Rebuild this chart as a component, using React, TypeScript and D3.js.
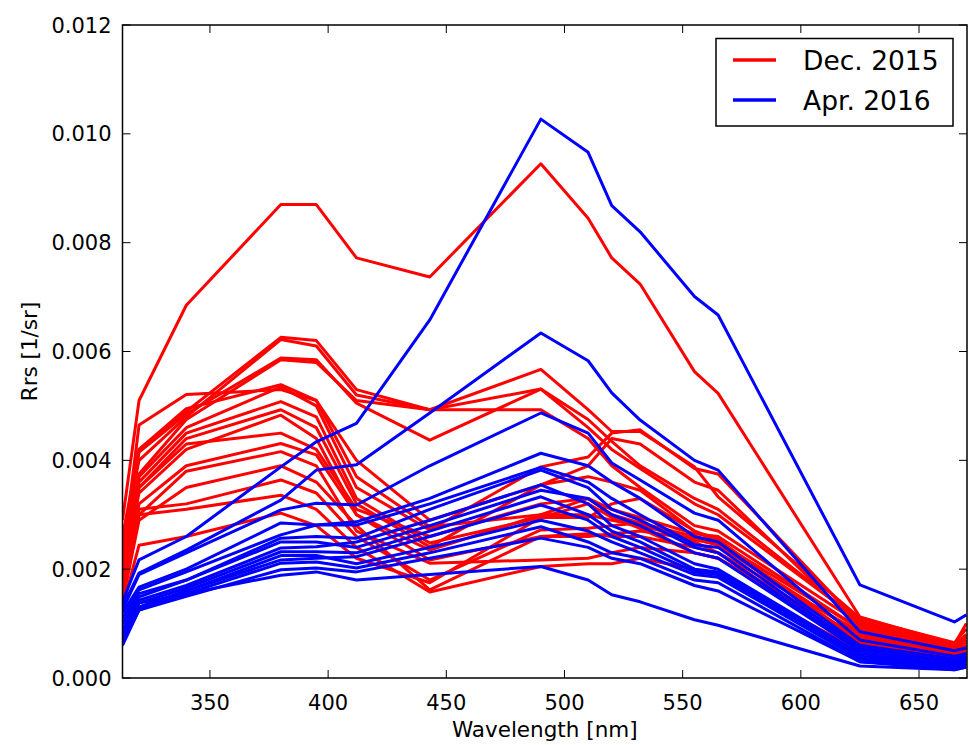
import React from "react";
import * as d3 from "d3";

const wavelengths = [313, 320, 340, 380, 395, 412, 443, 490, 510, 520, 532, 555, 565, 625, 665, 670];

// Rrs values in units of 1e-3 sr^-1
const dec2015 = [
  [2.9, 5.1, 6.85, 8.7, 8.7, 7.72, 7.37, 9.45, 8.45, 7.72, 7.24, 5.63, 5.23, 1.12, 0.62, 1.0],
  [2.6, 4.2, 4.9, 6.26, 6.2, 5.3, 4.93, 5.67, 4.93, 4.53, 4.53, 3.88, 3.33, 1.1, 0.65, 0.9],
  [2.5, 4.0, 4.8, 6.22, 6.1, 5.2, 4.93, 5.31, 4.6, 4.2, 3.85, 3.2, 3.0, 1.05, 0.6, 0.8],
  [2.4, 4.15, 4.85, 5.88, 5.85, 5.05, 4.37, 5.31, 4.75, 4.35, 3.9, 3.3, 3.1, 1.05, 0.6, 0.75],
  [2.3, 3.75, 4.75, 5.85, 5.8, 5.1, 4.93, 4.93, 4.4, 3.9, 3.5, 2.8, 2.7, 1.0, 0.55, 0.7],
  [2.2, 4.65, 5.21, 5.3, 5.1, 4.0, 2.9, 3.55, 3.7, 3.6, 3.45, 2.7, 2.5, 0.9, 0.5, 0.6],
  [2.1, 4.2, 4.95, 5.39, 5.1, 3.7, 2.78, 3.0, 3.3, 3.0, 2.85, 2.5, 2.3, 0.85, 0.5, 0.55],
  [2.0, 3.7, 4.6, 5.35, 5.0, 3.5, 2.72, 3.88, 4.06, 4.5, 4.56, 3.85, 3.75, 1.0, 0.6, 0.65],
  [1.9, 3.6, 4.5, 5.08, 4.8, 3.3, 2.48, 2.95, 3.2, 2.95, 2.75, 2.3, 2.2, 0.75, 0.45, 0.5],
  [1.8, 3.5, 4.4, 4.93, 4.6, 3.2, 2.41, 3.55, 3.9, 4.4, 4.3, 3.6, 3.45, 0.95, 0.55, 0.6],
  [1.9, 3.4, 4.2, 4.83, 4.4, 3.0, 2.35, 3.0, 3.0, 2.9, 2.8, 2.55, 2.45, 0.8, 0.45, 0.5],
  [1.7, 3.2, 3.9, 4.31, 4.1, 3.0, 2.17, 2.6, 2.6, 2.65, 2.7, 2.55, 2.45, 0.7, 0.4, 0.45],
  [1.6, 3.0, 3.8, 4.16, 3.9, 2.7, 2.11, 2.17, 2.2, 2.3, 2.4, 2.3, 2.2, 0.6, 0.35, 0.4],
  [1.6, 3.1, 3.2, 3.64, 3.4, 2.6, 1.8, 2.72, 2.75, 2.8, 2.85, 2.6, 2.5, 0.65, 0.4, 0.45],
  [1.5, 3.0, 3.1, 3.36, 3.1, 2.4, 1.58, 2.05, 2.1, 2.1, 2.2, 2.0, 1.9, 0.5, 0.3, 0.35],
  [1.3, 2.44, 2.6, 3.03, 2.8, 2.2, 1.75, 2.95, 2.95, 3.2, 3.3, 2.7, 2.55, 0.6, 0.35, 0.4],
  [1.7, 3.5, 4.3, 4.5, 4.2, 3.1, 2.6, 3.2, 3.3, 3.1, 2.95, 2.65, 2.6, 0.9, 0.5, 0.55],
  [1.4, 2.9, 3.5, 3.9, 3.6, 2.8, 1.62, 2.6, 2.65, 2.6, 2.6, 2.4, 2.3, 0.55, 0.3, 0.35],
];

const apr2016 = [
  [1.4, 2.17, 2.6, 3.88, 4.34, 4.68, 6.58, 10.27, 9.66, 8.68, 8.2, 7.01, 6.67, 1.71, 1.03, 1.16],
  [1.3, 1.93, 2.35, 3.27, 3.82, 3.92, 4.87, 6.34, 5.83, 5.24, 4.74, 4.0, 3.82, 0.85, 0.5, 0.55],
  [1.25, 1.9, 2.3, 3.09, 3.21, 3.18, 3.9, 4.87, 4.5, 3.95, 3.64, 3.03, 2.9, 0.7, 0.4, 0.45],
  [1.2, 1.67, 2.0, 2.85, 2.81, 2.87, 3.3, 4.13, 3.9, 3.6, 3.3, 2.6, 2.5, 0.6, 0.35, 0.4],
  [1.1, 1.62, 1.95, 2.63, 2.81, 2.81, 3.2, 3.87, 3.6, 3.3, 3.0, 2.45, 2.4, 0.55, 0.3, 0.35],
  [1.0, 1.49, 1.8, 2.57, 2.6, 2.57, 3.1, 3.82, 3.5, 3.1, 2.9, 2.4, 2.3, 0.5, 0.3, 0.35],
  [1.1, 1.55, 1.8, 2.5, 2.5, 2.4, 2.8, 3.45, 3.3, 3.0, 2.8, 2.3, 2.2, 0.5, 0.3, 0.35],
  [0.9, 1.43, 1.7, 2.39, 2.41, 2.5, 2.9, 3.55, 3.2, 2.8, 2.6, 2.1, 2.0, 0.45, 0.25, 0.3],
  [0.8, 1.38, 1.65, 2.32, 2.32, 2.3, 2.7, 3.33, 3.0, 2.7, 2.5, 2.0, 1.95, 0.4, 0.25, 0.3],
  [0.7, 1.3, 1.6, 2.17, 2.2, 2.23, 2.6, 3.18, 2.9, 2.6, 2.4, 1.95, 1.9, 0.4, 0.2, 0.25],
  [0.75, 1.3, 1.6, 2.25, 2.25, 2.1, 2.4, 2.9, 2.7, 2.5, 2.3, 1.9, 1.85, 0.35, 0.2, 0.25],
  [0.65, 1.25, 1.55, 2.11, 2.13, 2.02, 2.3, 2.78, 2.5, 2.3, 2.2, 1.8, 1.75, 0.3, 0.2, 0.25],
  [0.6, 1.25, 1.5, 1.99, 2.02, 1.95, 2.2, 2.57, 2.4, 2.2, 2.1, 1.7, 1.6, 0.3, 0.15, 0.2],
  [0.9, 1.38, 1.55, 1.89, 1.95, 1.8, 1.9, 2.05, 1.8, 1.53, 1.4, 1.07, 0.97, 0.22, 0.15, 0.2],
];

const xTicks = [350, 400, 450, 500, 550, 600, 650];
const yTicks = [0, 0.002, 0.004, 0.006, 0.008, 0.01, 0.012];
const seriesNames = ["Dec. 2015", "Apr. 2016"];
const seriesColors = ["#ff0000", "#0000ff"];

const W = 969;
const H = 745;
const M = { left: 122.5, right: 967, top: 25, bottom: 678 };
const FONT = "'DejaVu Sans', sans-serif";

export default function App() {
  const x = d3.scaleLinear().domain([313, 670.3]).range([M.left, M.right]);
  const y = d3.scaleLinear().domain([0, 0.012]).range([M.bottom, M.top]);
  const line = d3
    .line<number>()
    .x((_, i) => x(wavelengths[i]))
    .y((v) => y(v * 1e-3));
  const tl = 8;

  return (
    <svg
      width={W}
      height={H}
      style={{ position: "absolute", left: 0, top: 0, background: "#fff" }}
      fontFamily={FONT}
    >
      <defs>
        <clipPath id="plot">
          <rect x={M.left} y={M.top} width={M.right - M.left} height={M.bottom - M.top} />
        </clipPath>
      </defs>
      <rect x={0} y={0} width={W} height={H} fill="#fff" />
      <g clipPath="url(#plot)" fill="none" strokeWidth={3} strokeLinejoin="round">
        {dec2015.map((s, i) => (
          <path key={"r" + i} d={line(s) || ""} stroke={seriesColors[0]} />
        ))}
        {apr2016.map((s, i) => (
          <path key={"b" + i} d={line(s) || ""} stroke={seriesColors[1]} />
        ))}
      </g>
      {/* ticks */}
      <g stroke="#000" strokeWidth={1}>
        {xTicks.map((t) => (
          <g key={"xt" + t}>
            <line x1={x(t)} x2={x(t)} y1={M.bottom} y2={M.bottom - tl} />
            <line x1={x(t)} x2={x(t)} y1={M.top} y2={M.top + tl} />
          </g>
        ))}
        {yTicks.map((t) => (
          <g key={"yt" + t}>
            <line x1={M.left} x2={M.left + tl} y1={y(t)} y2={y(t)} />
            <line x1={M.right} x2={M.right - tl} y1={y(t)} y2={y(t)} />
          </g>
        ))}
      </g>
      <rect
        x={M.left}
        y={M.top}
        width={M.right - M.left}
        height={M.bottom - M.top}
        fill="none"
        stroke="#000"
        strokeWidth={1.5}
      />
      <g fontSize={21} fill="#000">
        {xTicks.map((t) => (
          <text key={"xl" + t} x={x(t)} y={M.bottom + 32} textAnchor="middle">
            {t}
          </text>
        ))}
        {yTicks.map((t) => (
          <text key={"yl" + t} x={M.left - 11} y={y(t) + 7.5} textAnchor="end">
            {d3.format(".3f")(t)}
          </text>
        ))}
      </g>
      <text x={(M.left + M.right) / 2} y={737} textAnchor="middle" fontSize={21.5}>
        Wavelength [nm]
      </text>
      <text
        transform={`translate(37, ${(M.top + M.bottom) / 2}) rotate(-90)`}
        textAnchor="middle"
        fontSize={21.5}
      >
        Rrs [1/sr]
      </text>
      {/* legend */}
      <g>
        <rect x={716} y={38.5} width={237} height={87.5} fill="#fff" stroke="#000" strokeWidth={1.5} />
        {seriesNames.map((n, i) => (
          <g key={n}>
            <line
              x1={733}
              x2={776}
              y1={60 + i * 40}
              y2={60 + i * 40}
              stroke={seriesColors[i]}
              strokeWidth={3.5}
            />
            <text x={803} y={60 + i * 40 + 9.5} fontSize={26.5}>
              {n}
            </text>
          </g>
        ))}
      </g>
    </svg>
  );
}
